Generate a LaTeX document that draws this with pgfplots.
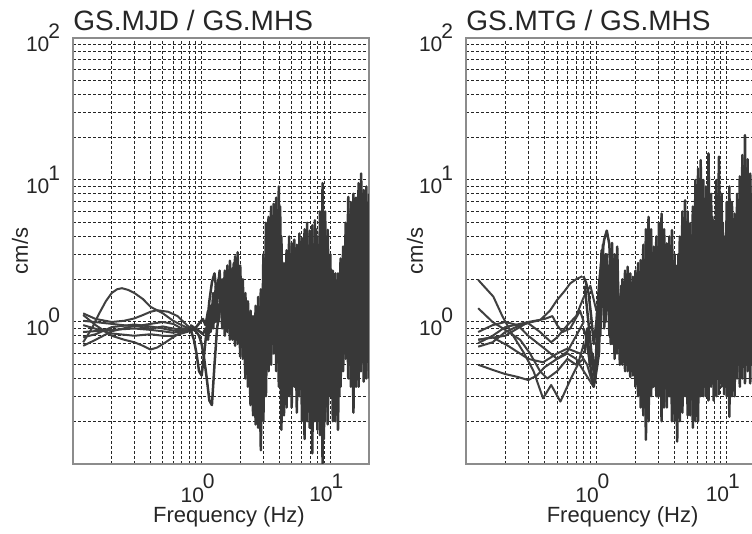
\documentclass[border=0pt]{standalone}
\usepackage{fontspec}
\setmainfont{Liberation Sans}
\usepackage{pgfplots}
\usepackage{pgfplotstable}
\pgfplotsset{compat=1.18}

% grid A: f, left panel lines L1 L2, right panel lines R1 R2
\pgfplotstableread{
f L1 L2 R1 R2
0.794 0.90 0.92 2.10 0.90
0.832 0.85 0.90 1.90 0.80
0.871 0.75 0.88 1.60 0.60
0.912 0.60 0.85 1.10 0.45
0.955 0.45 0.80 0.70 0.35
1.000 0.42 0.70 1.00 0.45
1.047 0.60 0.55 1.80 0.60
1.096 0.90 0.40 2.80 3.20
1.148 1.40 0.28 3.80 0.90
1.202 1.90 0.26 4.40 3.00
1.259 2.20 0.50 3.50 0.80
1.318 1.50 0.90 0.70 3.60
1.380 2.30 1.20 3.00 0.55
1.445 0.90 2.00 0.60 3.39
1.514 2.30 0.80 1.50 0.50
1.585 0.85 2.50 0.50 2.00
1.660 2.70 0.75 2.30 0.45
1.738 0.75 2.40 0.45 2.45
1.820 2.90 0.68 2.20 0.41
1.905 0.70 3.10 0.42 2.08
1.995 2.50 0.57 2.30 0.35
2.089 0.55 2.00 0.30 2.60
2.188 1.60 0.40 2.73 0.25
2.291 0.35 1.40 0.22 3.50
2.399 1.20 0.26 4.50 0.148
2.512 0.22 1.10 0.20 5.50
2.630 1.30 0.19 4.50 0.30
2.754 0.18 1.50 0.35 3.39
2.884 1.70 0.125 4.00 0.30
3.020 0.20 3.00 0.30 5.00
3.162 5.00 0.30 5.80 0.20
3.311 0.45 5.50 0.25 4.50
3.467 6.50 0.50 3.58 0.25
3.631 0.60 6.80 0.30 4.00
3.802 7.50 0.45 4.44 0.20
3.981 0.35 9.00 0.20 3.00
4.169 4.00 0.174 1.98 0.144
4.365 0.22 2.60 0.20 4.00
4.571 3.20 0.25 6.00 0.23
4.786 0.30 4.00 0.30 7.20
5.012 3.60 0.25 6.00 0.22
5.248 0.35 3.80 0.22 4.96
5.495 3.50 0.23 6.50 0.18
5.754 0.30 4.20 0.20 10.0
6.026 3.90 0.20 12.0 0.20
6.310 0.15 4.50 0.30 13.8
6.607 5.00 0.20 10.0 0.30
6.918 0.18 4.40 0.30 9.00
7.244 4.80 0.119 15.4 0.28
7.586 0.20 5.20 0.35 8.00
7.943 4.00 0.174 5.20 0.28
8.318 0.16 6.00 0.30 10.0
8.710 9.50 0.101 14.6 0.31
9.120 0.20 6.00 0.35 8.00
9.550 4.45 0.19 4.00 0.31
10.00 0.30 3.00 0.30 7.00
10.47 2.30 0.20 9.00 0.215
10.96 0.20 2.20 0.30 7.00
11.48 2.20 0.174 5.80 0.30
12.02 0.35 2.80 0.40 8.00
12.59 3.40 0.45 10.6 0.35
13.18 0.55 5.00 0.40 15.0
13.80 7.60 0.40 20.7 0.37
14.45 0.35 7.00 0.45 14.0
15.14 8.00 0.23 11.1 0.37
15.85 0.35 7.50 0.50 10.0
16.60 9.50 0.35 10.0 0.40
17.38 0.45 11.1 0.50 9.00
18.20 8.50 0.38 9.00 0.40
19.05 0.40 9.00 0.50 10.0
19.95 8.00 0.40 8.00 0.40
}\gridA

% grid B: f, left panel lines L3 L4, right panel lines R3 R4
\pgfplotstableread{
f L3 L4 R3 R4
0.813 0.95 0.85 1.80 0.60
0.851 0.93 0.88 1.20 0.90
0.891 0.90 0.90 0.80 0.50
0.933 0.88 0.95 0.50 0.60
0.977 0.85 1.00 0.40 0.38
1.023 0.82 1.05 0.80 1.20
1.072 0.90 0.95 2.20 0.80
1.122 0.75 1.20 1.50 3.50
1.175 1.30 0.85 3.00 1.00
1.230 0.90 1.60 1.20 2.50
1.288 1.80 1.00 2.80 0.70
1.349 1.00 2.00 0.90 2.00
1.413 1.60 1.20 2.20 0.60
1.479 1.10 1.80 0.70 1.50
1.549 2.00 1.00 1.80 0.55
1.622 0.95 2.20 0.60 1.80
1.698 1.90 0.90 1.60 0.50
1.778 0.90 2.60 0.55 2.00
1.862 2.20 0.75 1.80 0.45
1.950 0.80 2.00 0.50 1.80
2.042 1.50 0.70 1.50 0.40
2.138 0.60 1.30 0.45 2.20
2.239 1.10 0.50 2.00 0.30
2.344 0.45 1.00 0.35 2.50
2.455 0.90 0.40 2.50 0.25
2.570 0.35 0.90 0.40 3.50
2.692 1.00 0.30 3.00 0.35
2.818 0.30 1.10 0.45 2.80
2.951 1.20 0.25 2.50 0.30
3.090 0.60 2.00 0.40 3.50
3.236 2.50 0.50 3.00 0.25
3.388 0.70 4.00 0.35 3.50
3.548 3.50 0.70 2.80 0.30
3.715 0.80 5.50 0.30 3.00
3.890 2.80 0.60 2.50 0.25
4.074 0.50 6.50 0.25 2.50
4.266 2.00 0.30 3.00 0.25
4.467 0.40 2.00 0.30 3.50
4.677 2.20 0.35 3.50 0.30
4.898 0.50 3.00 0.35 5.00
5.129 2.80 0.45 3.50 0.30
5.370 0.40 3.30 0.30 4.00
5.623 2.50 0.35 4.50 0.25
5.888 0.45 3.50 0.35 7.00
6.166 3.00 0.30 5.00 0.30
6.457 0.35 3.80 0.40 8.00
6.761 3.20 0.25 4.50 0.35
7.079 0.30 3.60 0.40 6.00
7.413 3.50 0.20 5.00 0.40
7.762 0.35 4.50 0.45 5.50
8.128 2.80 0.25 4.00 0.35
8.511 0.30 4.80 0.40 7.00
8.913 4.00 0.15 5.50 0.40
9.333 0.40 4.00 0.45 5.00
9.772 2.50 0.30 4.00 0.35
10.23 0.35 2.20 0.40 5.00
10.72 1.80 0.25 5.00 0.30
11.22 0.30 1.80 0.45 5.00
11.75 1.60 0.30 5.50 0.40
12.30 0.45 2.40 0.50 6.00
12.88 2.50 0.60 6.00 0.45
13.49 0.70 4.00 0.50 8.00
14.13 5.00 0.50 7.00 0.50
14.79 0.60 6.00 0.55 8.00
15.49 5.50 0.35 6.00 0.50
16.22 0.50 6.50 0.50 7.00
16.98 6.00 0.45 6.00 0.50
17.78 0.60 8.00 0.50 6.00
18.62 7.00 0.50 6.00 0.50
19.50 0.60 7.00 0.50 6.00
}\gridB

\newcommand{\tp}[1]{10\kern-0.05em\raisebox{0.64em}{#1}}

\pgfplotsset{
  twopanel/.style={
    scale only axis, height=213pt,
    xmin=0.1, xmax=20, ymin=0.1, ymax=100,
    xtick={1,10}, xticklabels={\tp{0},\tp{1}},
    ytick={1,10,100}, yticklabels={\tp{0},\tp{1},\tp{2}},
    minor xtick={0.2,0.3,0.4,0.5,0.6,0.7,0.8,0.9,2,3,4,5,6,7,8,9},
    minor ytick={0.2,0.3,0.4,0.5,0.6,0.7,0.8,0.9,2,3,4,5,6,7,8,9,20,30,40,50,60,70,80,90},
    grid=both,
    major grid style={black!85, line width=0.5pt, dash pattern=on 1.7pt off 0.8pt},
    minor grid style={black!85, line width=0.5pt, dash pattern=on 1.7pt off 0.8pt},
    major tick length=0pt, minor tick length=0pt,
    axis line style={black!45, line width=0.6pt},
    tick label style={font=\fontsize{10.5}{12}\selectfont, text=black!85},
    xticklabel style={anchor=north, inner sep=0pt, yshift=-4.8pt, xshift=-2pt},
    yticklabel style={anchor=east, inner sep=0pt, xshift=-6.3pt},
    title style={anchor=base west, inner sep=0pt,
      font=\fontsize{14}{16}\selectfont, text=black!85},
    xlabel style={anchor=base, inner sep=0pt,
      font=\fontsize{11}{13}\selectfont, text=black!85},
    ylabel style={anchor=center, inner sep=0pt,
      font=\fontsize{11}{13}\selectfont, text=black!85},
    xlabel={Frequency (Hz)}, ylabel={cm/s},
  },
  dl/.style={black!75, line width=1.0pt, line join=round, mark=none},
  dn/.style={black!78, line width=1.25pt, line join=round, mark=none},
}

\begin{document}
\begin{tikzpicture}
% ---------------- left panel ----------------
\begin{loglogaxis}[twopanel, width=148pt, at={(36.5pt,35pt)}, anchor=south west,
  title={GS.MJD / GS.MHS},
  title style={at={(0,1.0164)}, yshift=-5.5pt},
  xlabel style={at={(0.527,-0.1385)}},
  ylabel style={at={(-0.179,0.5)}}]
\addplot[dl] coordinates {(0.12,0.72)(0.14,0.9)(0.16,1.15)(0.18,1.4)(0.2,1.6)(0.22,1.7)(0.24,1.73)(0.27,1.68)(0.3,1.6)(0.35,1.45)(0.4,1.28)(0.5,1.15)(0.6,1.02)(0.7,0.95)(0.8,0.9)};
\addplot[dl] coordinates {(0.12,1.15)(0.15,1.05)(0.2,1.0)(0.25,1.02)(0.3,1.06)(0.35,1.12)(0.4,1.18)(0.45,1.21)(0.55,1.18)(0.65,1.1)(0.75,0.97)(0.8,0.92)};
\addplot[dl] coordinates {(0.12,1.12)(0.15,0.95)(0.2,0.8)(0.25,0.75)(0.3,0.72)(0.35,0.68)(0.4,0.64)(0.45,0.66)(0.5,0.7)(0.6,0.78)(0.7,0.85)(0.8,0.88)};
\addplot[dl] coordinates {(0.12,0.85)(0.2,0.88)(0.3,0.9)(0.4,0.88)(0.5,0.86)(0.6,0.84)(0.7,0.86)(0.8,0.88)};
\addplot[dl] coordinates {(0.12,0.78)(0.15,0.82)(0.2,0.92)(0.3,0.96)(0.4,0.93)(0.5,0.9)(0.6,0.87)(0.7,0.86)(0.8,0.9)};
\addplot[dl] coordinates {(0.12,0.95)(0.2,0.83)(0.3,0.8)(0.4,0.82)(0.5,0.8)(0.6,0.8)(0.7,0.83)(0.8,0.86)};
\addplot[dl] coordinates {(0.12,0.68)(0.15,0.75)(0.2,0.86)(0.3,0.94)(0.4,0.9)(0.5,0.93)(0.6,0.9)(0.7,0.88)(0.8,0.87)};
\addplot[dl] coordinates {(0.12,1.02)(0.2,0.97)(0.3,0.93)(0.4,0.97)(0.5,1.0)(0.6,0.97)(0.7,0.9)(0.8,0.9)};
\addplot[dn] table[x=f,y=L1]{\gridA};
\addplot[dn] table[x=f,y=L2]{\gridA};
\addplot[dn] table[x=f,y=L3]{\gridB};
\addplot[dn] table[x=f,y=L4]{\gridB};
\end{loglogaxis}
% ---------------- right panel ----------------
\begin{loglogaxis}[twopanel, width=150pt, at={(233pt,35pt)}, anchor=south west,
  title={GS.MTG / GS.MHS},
  title style={at={(0,1.0164)}, yshift=-5.5pt},
  xlabel style={at={(0.522,-0.1385)}},
  ylabel style={at={(-0.17,0.5)}}]
\addplot[dl] coordinates {(0.124,1.98)(0.14,1.75)(0.162,1.51)(0.19,1.1)(0.23,0.8)(0.28,0.6)(0.33,0.45)(0.39,0.29)(0.45,0.36)(0.53,0.275)(0.63,0.39)(0.72,0.5)(0.8,0.7)};
\addplot[dl] coordinates {(0.124,1.25)(0.16,1.0)(0.2,0.88)(0.26,0.75)(0.31,0.6)(0.37,0.45)(0.42,0.4)(0.5,0.45)(0.6,0.55)(0.7,0.5)(0.8,0.55)};
\addplot[dl] coordinates {(0.124,0.75)(0.2,0.8)(0.29,0.98)(0.37,1.03)(0.44,1.2)(0.5,1.43)(0.57,1.65)(0.63,1.87)(0.7,2.0)(0.78,2.1)};
\addplot[dl] coordinates {(0.124,0.71)(0.16,0.8)(0.2,0.92)(0.3,1.0)(0.4,1.05)(0.46,1.1)(0.5,0.95)(0.55,0.85)(0.63,0.9)(0.75,1.2)(0.8,1.0)};
\addplot[dl] coordinates {(0.124,0.5)(0.16,0.46)(0.2,0.43)(0.25,0.41)(0.3,0.39)(0.35,0.42)(0.4,0.48)(0.5,0.55)(0.6,0.6)(0.7,0.55)(0.8,0.45)(0.9,0.38)(0.95,0.35)(1.0,0.5)};
\addplot[dl] coordinates {(0.124,0.75)(0.16,0.78)(0.21,0.68)(0.3,0.55)(0.39,0.52)(0.5,0.6)(0.6,0.65)(0.75,0.6)(0.85,0.5)(0.95,0.35)};
\addplot[dl] coordinates {(0.124,0.67)(0.16,0.72)(0.2,0.85)(0.26,0.95)(0.3,0.98)(0.37,0.85)(0.45,0.72)(0.5,0.78)(0.6,0.95)(0.7,1.1)(0.8,1.5)(0.9,1.8)(1.0,1.2)};
\addplot[dl] coordinates {(0.124,0.85)(0.16,0.95)(0.2,1.0)(0.25,0.95)(0.3,0.8)(0.4,0.65)(0.5,0.55)(0.6,0.62)(0.7,0.8)(0.8,1.0)};
\addplot[dn] table[x=f,y=R1]{\gridA};
\addplot[dn] table[x=f,y=R2]{\gridA};
\addplot[dn] table[x=f,y=R3]{\gridB};
\addplot[dn] table[x=f,y=R4]{\gridB};
\end{loglogaxis}
\pgfresetboundingbox
\path[use as bounding box] (0,0) rectangle (376pt,267pt);
\end{tikzpicture}
\end{document}
